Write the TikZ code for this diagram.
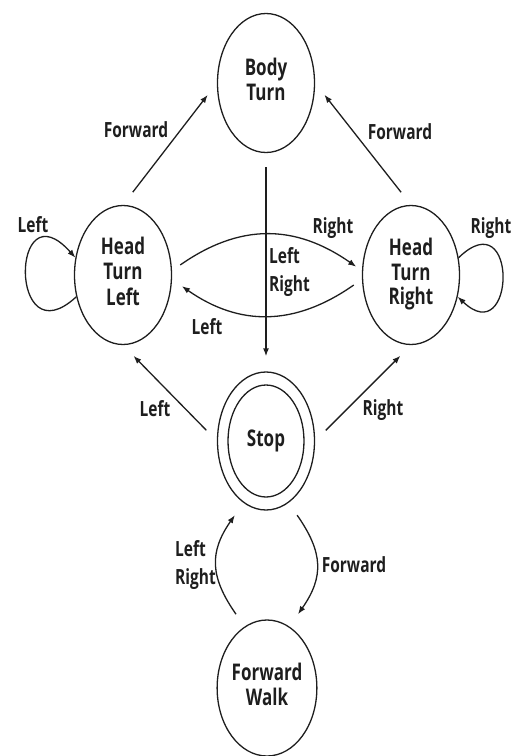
\documentclass[tikz,border=0pt]{standalone}
\usepackage{fontspec}
\setmainfont{Open Sans}
\usetikzlibrary{shapes.geometric,arrows.meta}
\newcommand{\vs}[1]{\scalebox{1}[1.35]{#1}}
\definecolor{ink}{HTML}{1E1E1E}
\begin{document}
\begin{tikzpicture}[x=1pt,y=1pt,
  st/.style={ellipse, draw=ink, text=ink, line width=1.3pt, minimum width=97pt, minimum height=139pt, inner sep=0pt, font=\fontsize{17}{18.5}\selectfont\bfseries},
  lbl/.style={text=ink, font=\fontsize{15.5}{20.5}\selectfont\bfseries, inner sep=0pt},
  arr/.style={draw=ink, line width=1.3pt, -{Latex[length=8pt,width=6pt]}},
]
\useasboundingbox (0,0) rectangle (522,-756);
% states
\node[st] (BT) at (266,-83) {\vs{\begin{tabular}{@{}c@{}}Body\\Turn\end{tabular}}};
\node[st] (HTL) at (123,-275) {\vs{\begin{tabular}{@{}c@{}}Head\\Turn\\Left\end{tabular}}};
\node[st] (HTR) at (411,-275) {\vs{\begin{tabular}{@{}c@{}}Head\\Turn\\Right\end{tabular}}};
\node[st, minimum height=138pt] (Stop) at (266,-441) {\vs{Stop}};
\node[ellipse, draw=ink, line width=1.3pt, minimum width=76pt, minimum height=112pt, inner sep=0pt] (StopIn) at (Stop.center) {};
\node[st, minimum height=136pt] (FW) at (267,-688) {\vs{\begin{tabular}{@{}c@{}}Forward\\Walk\end{tabular}}};
% straight connectors
\draw[arr, shorten <=16pt, shorten >=15pt] (HTL.north) -- (BT.west);
\draw[arr, shorten <=16pt, shorten >=15pt] (HTR.north) -- (BT.east);
\draw[arr, shorten <=14pt, shorten >=15pt] (BT.south) -- (Stop.north);
\draw[arr, shorten <=15pt, shorten >=15pt] (Stop.west) -- (HTL.south);
\draw[arr, shorten <=15pt, shorten >=15pt] (Stop.east) -- (HTR.south);
% arcs between head turns
\draw[arr, shorten <=10pt, shorten >=7pt] (HTL.5) to[out=35,in=145,looseness=1.11] (HTR.175);
\draw[arr, shorten <=10pt, shorten >=12pt] (HTR.185) to[out=215,in=325,looseness=1.11] (HTL.355);
% self loops
\draw[arr] (HTL.205) .. controls +(-68,-63) and +(-65,73) .. (HTL.160);
\draw[arr] (HTR.20) .. controls +(60,58) and +(58,-55) .. (HTR.335);
% stop <-> forward walk
\draw[arr, shorten <=15pt, shorten >=15pt] (FW.110) to[out=125,in=235,looseness=1.245] (Stop.250);
\draw[arr, shorten <=15pt, shorten >=15pt] (Stop.290) to[out=-55,in=55,looseness=1.25] (FW.70);
% labels
\node[lbl] (lF1) at (136,-130) {\vs{Forward}};
\node[lbl] (lF2) at (400,-132) {\vs{Forward}};
\node[lbl] (lL1) at (33,-225) {\vs{Left}};
\node[lbl] (lR1) at (333,-228) {\vs{Right}};
\node[lbl] (lR2) at (491,-228) {\vs{Right}};
\node[lbl, anchor=west] (lLR1) at (269,-272) {\vs{\begin{tabular}{@{}l@{}}Left\\Right\end{tabular}}};
\node[lbl] (lL2) at (207,-327) {\vs{Left}};
\node[lbl] (lL3) at (155,-409) {\vs{Left}};
\node[lbl] (lR3) at (383,-410) {\vs{Right}};
\node[lbl, anchor=west] (lLR2) at (175,-565) {\vs{\begin{tabular}{@{}l@{}}Left\\Right\end{tabular}}};
\node[lbl] (lF3) at (354,-565) {\vs{Forward}};
\end{tikzpicture}
\end{document}
